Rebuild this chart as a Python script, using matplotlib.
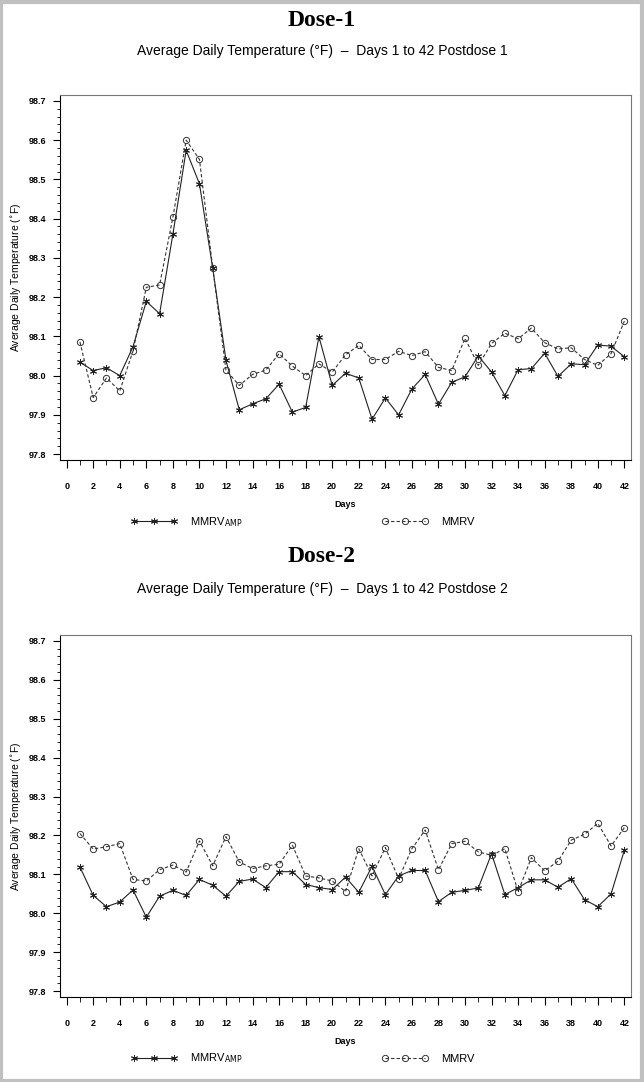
# -*- coding: utf-8 -*-
import matplotlib
matplotlib.use("Agg")
import matplotlib.pyplot as plt
import numpy as np
from matplotlib.ticker import MultipleLocator, FormatStrFormatter
from matplotlib.patches import Rectangle

## données
days = np.arange(1, 43)

dose1_amp = [98.034, 98.013, 98.020, 98.000, 98.074, 98.189, 98.158, 98.360, 98.574, 98.489,
             98.274, 98.039, 97.913, 97.928, 97.941, 97.978, 97.907, 97.919, 98.099, 97.975,
             98.006, 97.994, 97.889, 97.943, 97.900, 97.966, 98.003, 97.927, 97.983, 97.997,
             98.050, 98.009, 97.949, 98.015, 98.018, 98.057, 97.998, 98.030, 98.028, 98.078,
             98.075, 98.048]
dose1_mmrv = [98.086, 97.944, 97.994, 97.961, 98.063, 98.225, 98.231, 98.403, 98.600, 98.551,
              98.275, 98.014, 97.975, 98.003, 98.014, 98.056, 98.024, 98.000, 98.030, 98.009,
              98.053, 98.077, 98.041, 98.041, 98.062, 98.051, 98.061, 98.021, 98.013, 98.095,
              98.026, 98.082, 98.108, 98.094, 98.121, 98.084, 98.068, 98.071, 98.041, 98.026,
              98.056, 98.139]
dose2_amp = [98.119, 98.046, 98.017, 98.029, 98.060, 97.990, 98.044, 98.059, 98.046, 98.087,
             98.072, 98.044, 98.082, 98.088, 98.066, 98.107, 98.107, 98.074, 98.066, 98.061,
             98.093, 98.054, 98.121, 98.048, 98.096, 98.110, 98.110, 98.030, 98.054, 98.059,
             98.065, 98.153, 98.048, 98.066, 98.086, 98.086, 98.067, 98.089, 98.035, 98.017,
             98.050, 98.162]
dose2_mmrv = [98.205, 98.165, 98.171, 98.179, 98.087, 98.083, 98.112, 98.124, 98.106, 98.186,
              98.122, 98.197, 98.132, 98.115, 98.122, 98.126, 98.175, 98.096, 98.091, 98.083,
              98.056, 98.166, 98.096, 98.169, 98.089, 98.166, 98.214, 98.112, 98.179, 98.185,
              98.158, 98.149, 98.166, 98.056, 98.143, 98.109, 98.134, 98.188, 98.203, 98.231,
              98.173, 98.220]

titles = ["Dose-1", "Dose-2"]
subtitles = ["Average Daily Temperature (°F)  –  Days 1 to 42 Postdose 1",
             "Average Daily Temperature (°F)  –  Days 1 to 42 Postdose 2"]

plt.rcParams['font.family'] = ['Liberation Sans', 'DejaVu Sans']

fig = plt.figure(figsize=(6.44, 10.82), dpi=100)
W, H = 644.0, 1082.0

# cadre gris autour de l'image
fig.patches.append(Rectangle((0.002, 0.001), 0.995, 0.997, transform=fig.transFigure,
                             fill=False, edgecolor="#c0c0c0", linewidth=3))

def panel(top, bottom, amp, mmrv, title, subtitle, title_y, sub_y):
    ax = fig.add_axes([60 / W, 1 - bottom / H, (631 - 60) / W, (bottom - top) / H])
    ax.plot(days, amp, color="#222222", lw=0.8, marker=(6, 2, 0), ms=5, mew=0.7,
            label=r"MMRV$_{\mathrm{AMP}}$")
    ax.plot(days, mmrv, color="#333333", lw=0.8, ls=(0, (3, 2)), marker="o", ms=4.5,
            mfc="none", mew=0.7, label="MMRV")
    ax.set_xlim(-0.5, 42.5)
    ax.set_ylim(97.785, 98.715)
    ax.xaxis.set_major_locator(MultipleLocator(2))
    ax.xaxis.set_minor_locator(MultipleLocator(1))
    ax.yaxis.set_major_locator(MultipleLocator(0.1))
    ax.yaxis.set_minor_locator(MultipleLocator(0.02))
    ax.yaxis.set_major_formatter(FormatStrFormatter("%.1f"))
    ax.tick_params(axis="x", which="major", length=6, width=0.8, pad=10, labelsize=6.5)
    ax.tick_params(axis="x", which="minor", length=3.5, width=0.6)
    ax.tick_params(axis="y", which="major", length=5, width=0.8, pad=5, labelsize=6.5)
    ax.tick_params(axis="y", which="minor", length=2.5, width=0.6)
    for lab in ax.get_xticklabels() + ax.get_yticklabels():
        lab.set_fontweight("bold")
    for s in ["top", "right"]:
        ax.spines[s].set_color("#777777")
    ax.set_xlabel("Days", fontsize=6.5, fontweight="bold", labelpad=6)
    ax.set_ylabel("Average Daily Temperature ($^{\\circ}$F)", fontsize=7.5, labelpad=4)
    ax.legend(loc="center left", bbox_to_anchor=(0.123, -0.17), ncol=2, frameon=False,
              numpoints=3, handlelength=4.2, handletextpad=1.2, columnspacing=12.5,
              borderpad=0, borderaxespad=0, fontsize=8)
    fig.text(0.5, 1 - title_y / H, title, ha="center", va="center", fontsize=17,
             fontweight="bold", family="Liberation Serif")
    fig.text(0.5, 1 - sub_y / H, subtitle, ha="center", va="center", fontsize=10)
    return ax

panel(95, 460, dose1_amp, dose1_mmrv, titles[0], subtitles[0], 20, 51)
panel(635, 997, dose2_amp, dose2_mmrv, titles[1], subtitles[1], 556, 589)

fig.savefig("out.png", dpi=100)
